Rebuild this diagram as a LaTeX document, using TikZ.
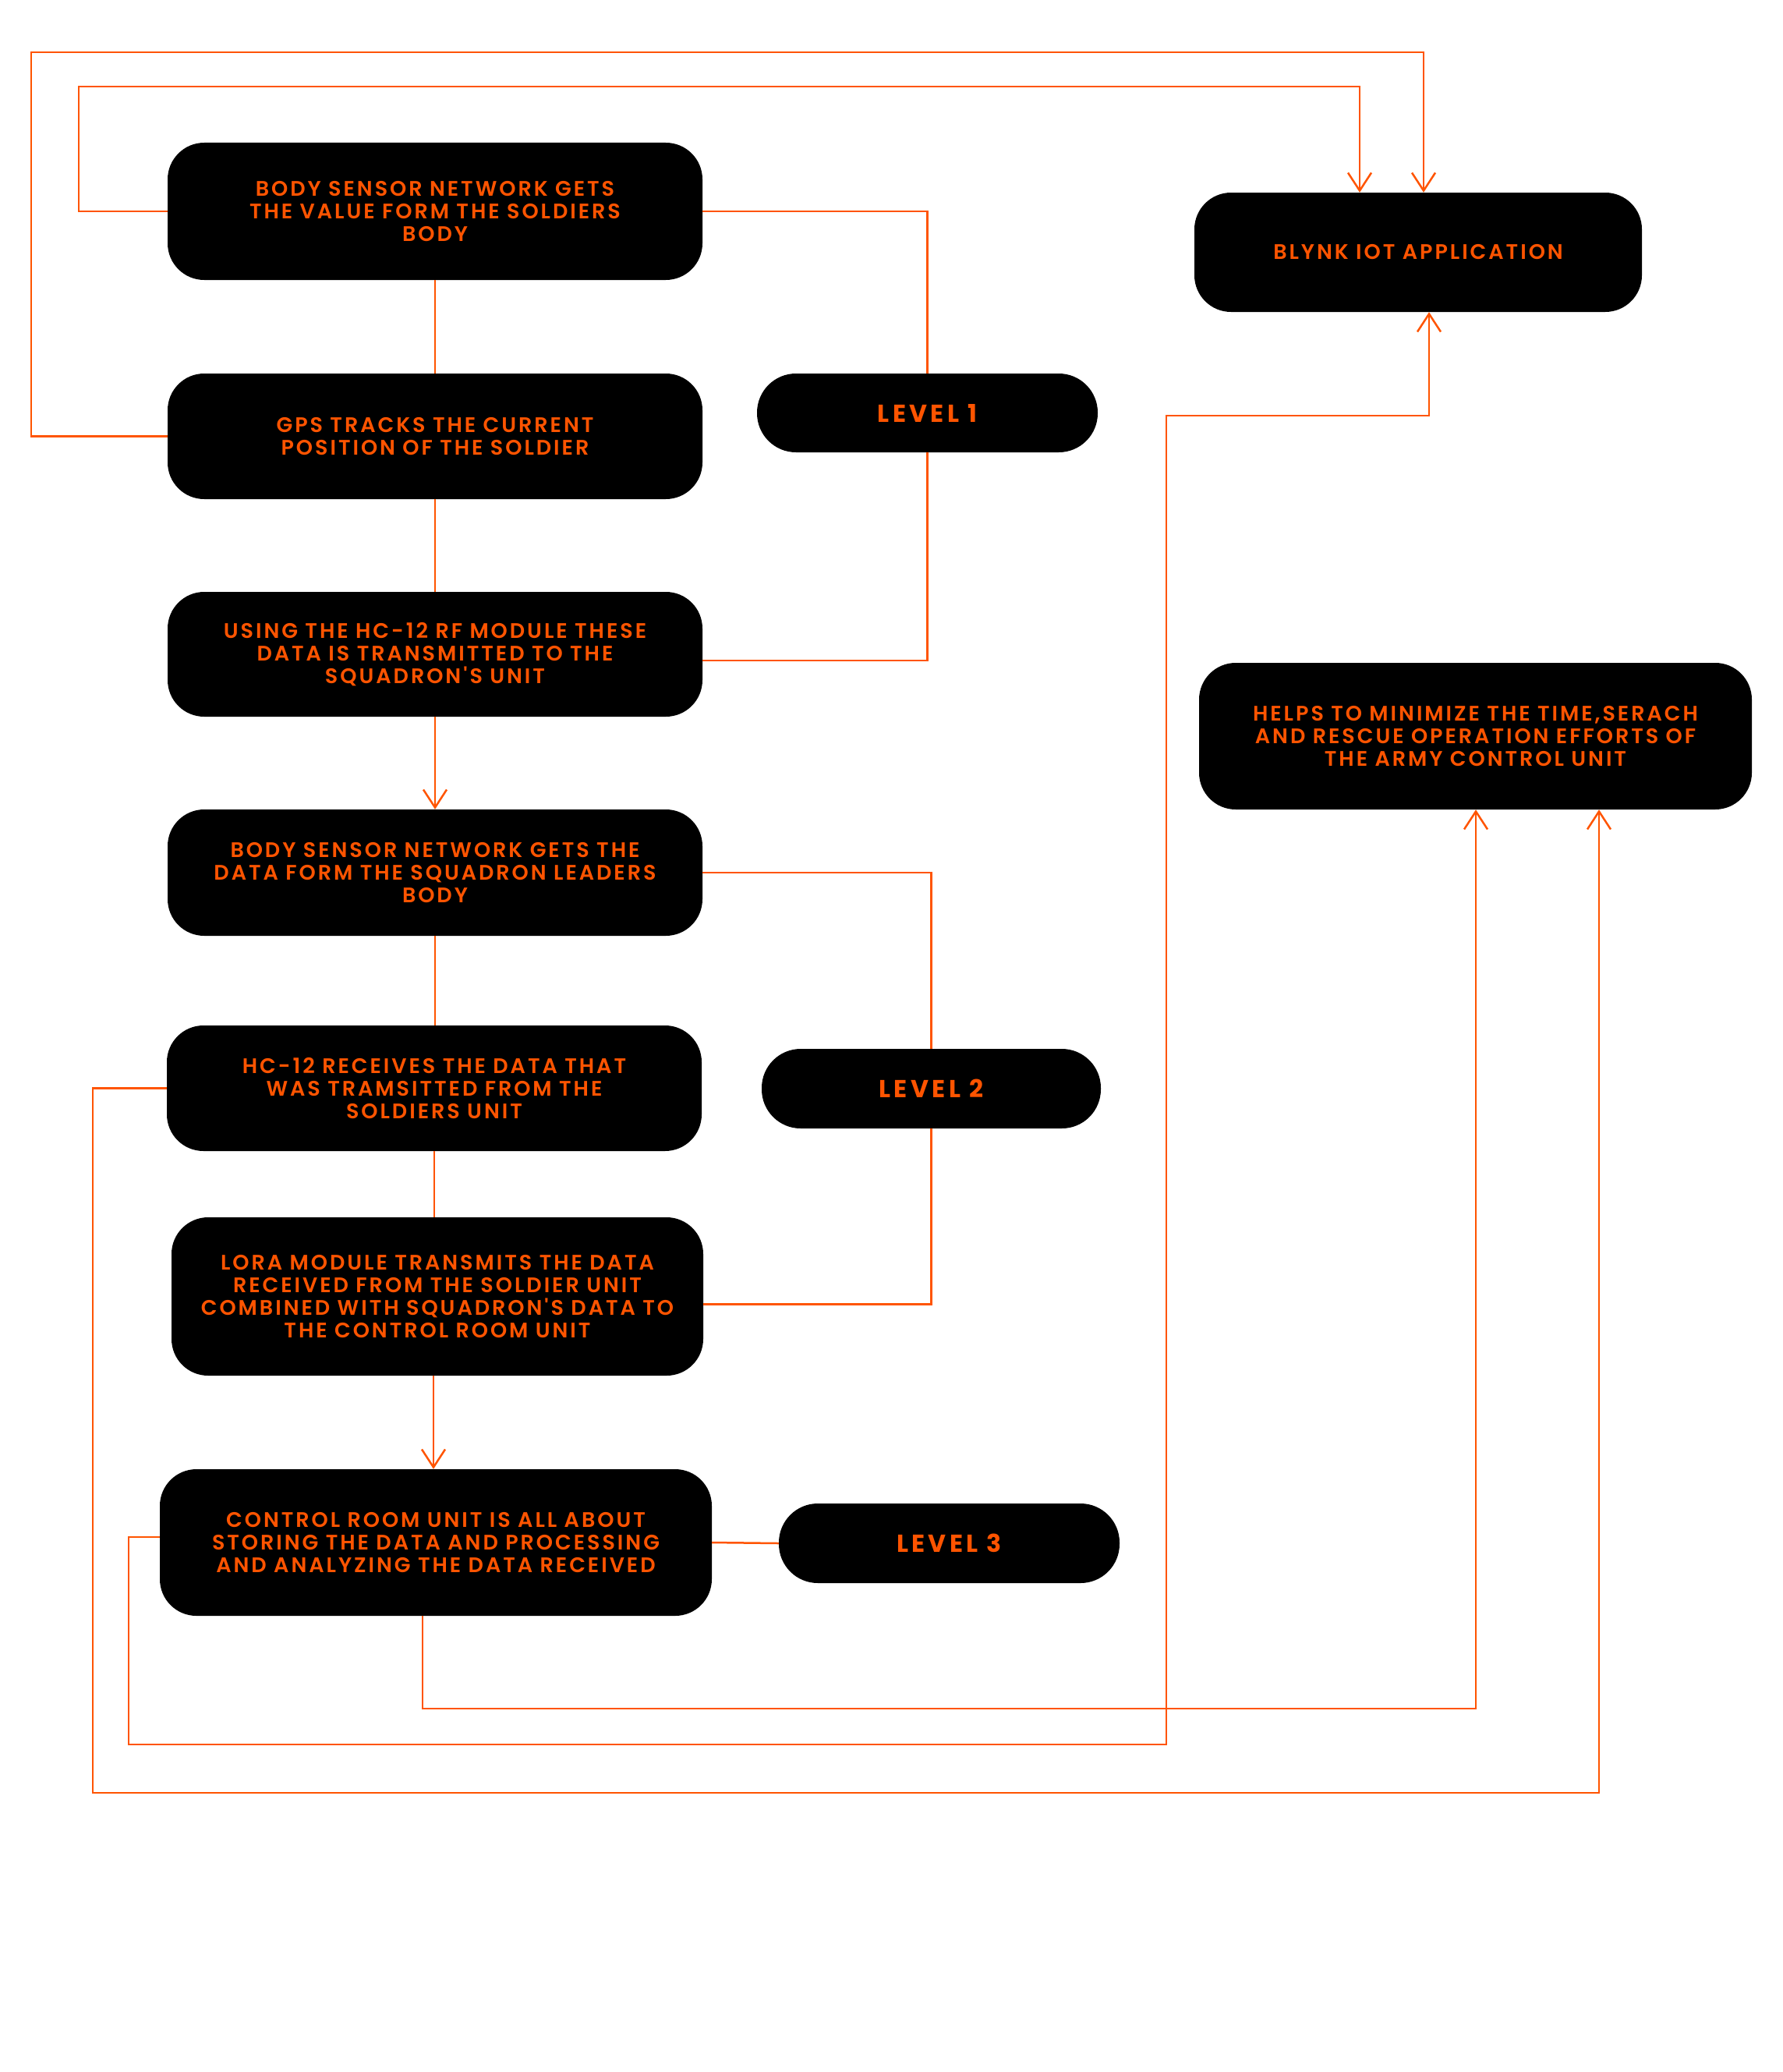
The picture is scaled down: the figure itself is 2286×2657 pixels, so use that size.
\documentclass[tikz,border=0pt]{standalone}
\usepackage{fontspec}
\setmainfont{Poppins}
\newfontfamily\bfont{Poppins SemiBold}[LetterSpace=11]
\newfontfamily\lfont{Poppins}[LetterSpace=14]
\usetikzlibrary{arrows.meta,calc}
\definecolor{org}{RGB}{255,84,0}
\tikzset{
  box/.style={fill=black, rounded corners=47pt, inner sep=0pt, align=center, text=org,
    font=\bfont\fontsize{27}{29}\selectfont},
  lvl/.style={fill=black, rounded corners=50pt, inner sep=0pt, text=org,
    font=\lfont\bfseries\fontsize{31.5}{34}\selectfont},
  ln/.style={draw=org, line width=2.5pt},
  arr/.style={ln, -{Straight Barb[length=23pt,width=30pt]}},
}
\begin{document}
\begin{tikzpicture}[x=1pt,y=-1pt]
\useasboundingbox (0,0) rectangle (2286,2657);
\node[box, minimum width=686pt, minimum height=176pt] (b1) at (558,271) {BODY SENSOR NETWORK GETS\\THE VALUE FORM THE SOLDIERS\\BODY};
\node[box, minimum width=686pt, minimum height=161pt] (b2) at (558,559.5) {GPS TRACKS THE CURRENT\\POSITION OF THE SOLDIER};
\node[box, minimum width=686pt, minimum height=160pt] (b3) at (558,839) {USING THE HC-12 RF MODULE THESE\\DATA IS TRANSMITTED TO THE\\SQUADRON'S UNIT};
\node[box, minimum width=686pt, minimum height=162pt] (b4) at (558,1119) {BODY SENSOR NETWORK GETS THE\\DATA FORM THE SQUADRON LEADERS\\BODY};
\node[box, minimum width=686pt, minimum height=161pt] (b5) at (557,1395.5) {HC-12 RECEIVES THE DATA THAT\\WAS TRAMSITTED FROM THE\\SOLDIERS UNIT};
\node[box, minimum width=682pt, minimum height=203pt] (b6) at (561,1662.5) {LORA MODULE TRANSMITS THE DATA\\RECEIVED FROM THE SOLDIER UNIT\\COMBINED WITH SQUADRON'S DATA TO\\THE CONTROL ROOM UNIT};
\node[box, minimum width=708pt, minimum height=188pt] (b7) at (559,1978) {CONTROL ROOM UNIT IS ALL ABOUT\\STORING THE DATA AND PROCESSING\\AND ANALYZING THE DATA RECEIVED};
\node[box, minimum width=574pt, minimum height=153pt] (blynk) at (1819,323.5) {BLYNK IOT APPLICATION};
\node[box, minimum width=709pt, minimum height=188pt] (helps) at (1892.5,944) {HELPS TO MINIMIZE THE TIME,SERACH\\AND RESCUE OPERATION EFFORTS OF\\THE ARMY CONTROL UNIT};
\node[lvl, minimum width=437pt, minimum height=101pt] (l1) at (1189.5,529.5) {LEVEL 1};
\node[lvl, minimum width=435pt, minimum height=102pt] (l2) at (1194.5,1396) {LEVEL 2};
\node[lvl, minimum width=437pt, minimum height=102pt] (l3) at (1217.5,1979) {LEVEL 3};
% coordinates
\coordinate (k1) at (40,67);
\coordinate (t1) at (1826,0);
\coordinate (k2) at (101,111);
\coordinate (t2) at (1744,0);
\coordinate (t3) at (1833,0);
\coordinate (t4) at (2051,0);
\coordinate (m1) at (165,2237);
\coordinate (m2) at (1496,533);
\coordinate (h1) at (1893,2191);
\coordinate (n1) at (119,2299);
\coordinate (e3) at ($(b3.east)+(0,8)$);
\coordinate (e6) at ($(b6.east)+(0,10)$);
\coordinate (v6) at ($(b6.south)+(-5,0)$);
\coordinate (v7) at ($(b7.south)+(-17,0)$);
\coordinate (w7) at ($(b7.west)+(0,-7)$);
% vertical chain
\draw[ln] (b1.south) -- (b2.north);
\draw[ln] (b2.south) -- (b3.north);
\draw[arr] (b3.south) -- (b4.north);
\draw[ln] (b4.south) -- (b4.south |- b5.north);
\draw[ln] (b5.south) -- (b5.south |- b6.north);
\draw[arr] (v6) -- (v6 |- b7.north);
% level brackets
\draw[ln] (b1.east) -| (l1.north);
\draw[ln] (e3) -| (l1.south);
\draw[ln] (b4.east) -| (l2.north);
\draw[ln] (e6) -| (l2.south);
\draw[ln] (b7.east) -- (l3.west);
% to blynk
\draw[arr] (b2.west) -| (k1) -- (k1 -| t1) -- (t1 |- blynk.north);
\draw[arr] (b1.west) -| (k2) -- (k2 -| t2) -- (t2 |- blynk.north);
\draw[arr] (w7) -| (m1) -| (m2) -- (m2 -| t3) -- (t3 |- blynk.south);
% to helps
\draw[arr] (v7) |- (h1) -- (h1 |- helps.south);
\draw[arr] (b5.west) -| (n1) -- (n1 -| t4) -- (t4 |- helps.south);
\end{tikzpicture}
\end{document}
